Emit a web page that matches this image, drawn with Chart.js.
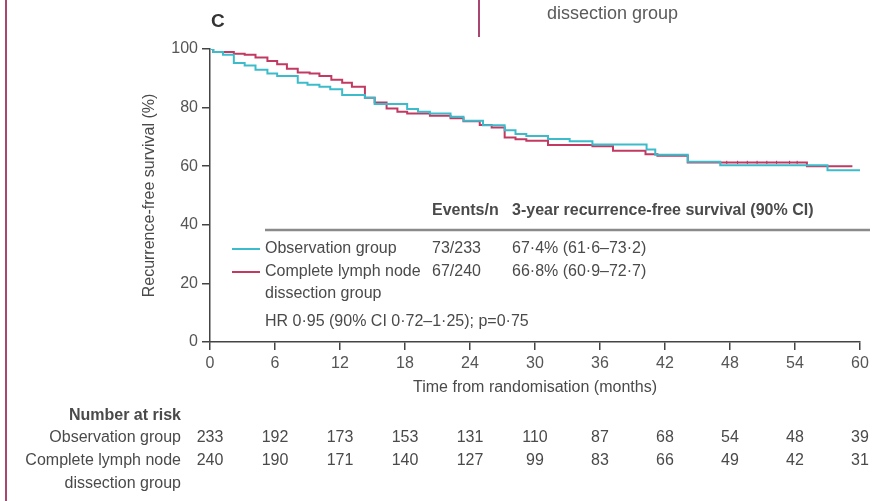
<!DOCTYPE html>
<html>
<head>
<meta charset="utf-8">
<script src="https://cdn.jsdelivr.net/npm/chart.js@4.4.1/dist/chart.umd.min.js"></script>
<style>
  html, body { margin: 0; padding: 0; background: #fff; }
  #wrap { position: relative; width: 874px; height: 501px; }
</style>
</head>
<body>
<div id="wrap"><canvas id="km" width="874" height="501"></canvas></div>
<script>
// Kaplan-Meier step estimates: survival (%) holds from each time (months) onward
const obsTimes = [0, 0.3, 1.2, 2.2, 3.2, 4.2, 5.3, 6.2, 8.1, 9.0, 10.1, 11.1, 12.2, 14.3, 15.2, 18.2, 19.2, 20.3, 22.2, 23.4, 25.2, 27.2, 28.2, 29.2, 31.2, 33.2, 35.3, 40.3, 41.1, 44.1, 47.1, 57.0, 60.2];
const obsSurv  = [100, 99.0, 98.0, 95.2, 94.4, 92.9, 91.6, 90.8, 88.5, 87.8, 87.1, 86.3, 84.3, 83.4, 81.2, 79.5, 78.6, 78.0, 76.9, 75.5, 74.0, 72.3, 71.0, 70.3, 69.3, 68.5, 67.4, 65.7, 63.9, 61.5, 60.3, 58.6, 58.6];

const clndTimes = [0, 0.3, 2.2, 3.2, 4.2, 5.3, 6.2, 7.1, 8.1, 9.2, 10.1, 11.2, 12.2, 13.1, 14.3, 15.2, 16.3, 17.3, 18.2, 20.3, 22.2, 23.4, 24.9, 26.0, 27.2, 28.2, 29.2, 31.2, 35.3, 37.2, 40.2, 41.3, 44.1, 55.1, 59.3];
const clndSurv  = [100, 99.0, 98.4, 98.0, 97.1, 95.9, 94.8, 93.3, 92.0, 91.6, 90.8, 89.5, 88.5, 87.1, 83.4, 81.7, 79.7, 78.6, 78.0, 77.2, 76.4, 75.3, 74.1, 73.2, 69.8, 69.2, 68.7, 67.2, 66.8, 65.3, 64.1, 63.6, 61.3, 60.0, 60.0];

// Censoring marks on the dissection-group curve
const clndCensorTimes = [47.7, 48.7, 49.6, 50.5, 51.4, 52.3, 53.5, 54.2];
const clndCensorSurv  = [61.3, 61.3, 61.3, 61.3, 61.3, 61.3, 61.3, 61.3];

// Number at risk at each 6-month mark
const riskTimes = [0, 6, 12, 18, 24, 30, 36, 42, 48, 54, 60];
const obsRisk   = [233, 192, 173, 153, 131, 110, 87, 68, 54, 48, 39];
const clndRisk  = [240, 190, 171, 140, 127, 99, 83, 66, 49, 42, 31];

// Summary table
const groupNames = ['Observation group', 'Complete lymph node', 'dissection group'];
const eventsN    = ['73/233', '67/240'];
const rfs3y      = ['67·4% (61·6–73·2)', '66·8% (60·9–72·7)'];
const hrText     = 'HR 0·95 (90% CI 0·72–1·25); p=0·75';

const CYAN = '#3cbccb';
const PINK = '#c23a62';
const FRAME = '#a8466f';
const TEXT = '#4a4a4a';
const FONT = "'Liberation Sans', Arial, sans-serif";

const toPts = (ts, vs) => ts.map((t, i) => ({x: t, y: vs[i]}));

const annotations = {
  id: 'annotations',
  afterDraw(chart) {
    const ctx = chart.ctx;
    const xs = chart.scales.x;
    const area = chart.chartArea;
    ctx.save();

    // page frame pieces
    ctx.strokeStyle = FRAME;
    ctx.lineWidth = 2;
    ctx.beginPath(); ctx.moveTo(6, 0); ctx.lineTo(6, 501); ctx.stroke();
    ctx.beginPath(); ctx.moveTo(479, 0); ctx.lineTo(479, 37); ctx.stroke();

    ctx.fillStyle = '#5a5a5a';
    ctx.textBaseline = 'middle';
    ctx.textAlign = 'left';
    ctx.font = `18px ${FONT}`;
    ctx.fillText('dissection group', 547, 14);

    // panel letter
    ctx.fillStyle = '#333';
    ctx.font = `bold 19px ${FONT}`;
    ctx.fillText('C', 211, 22);

    // axis titles
    ctx.fillStyle = TEXT;
    ctx.font = `16px ${FONT}`;
    ctx.textAlign = 'center';
    ctx.fillText('Time from randomisation (months)', (area.left + area.right) / 2, 388);
    ctx.save();
    ctx.translate(150, (area.top + area.bottom) / 2);
    ctx.rotate(-Math.PI / 2);
    ctx.fillText('Recurrence-free survival (%)', 0, 0);
    ctx.restore();

    // summary table
    ctx.font = `bold 16px ${FONT}`;
    ctx.textAlign = 'left';
    ctx.fillText('Events/n', 432, 211);
    ctx.fillText('3-year recurrence-free survival (90% CI)', 512, 211);
    ctx.strokeStyle = '#8a8a8a';
    ctx.lineWidth = 2.5;
    ctx.beginPath(); ctx.moveTo(265, 230); ctx.lineTo(870, 230); ctx.stroke();

    ctx.lineWidth = 2;
    ctx.strokeStyle = CYAN;
    ctx.beginPath(); ctx.moveTo(232, 249); ctx.lineTo(260, 249); ctx.stroke();
    ctx.strokeStyle = PINK;
    ctx.beginPath(); ctx.moveTo(232, 272); ctx.lineTo(260, 272); ctx.stroke();

    ctx.font = `16px ${FONT}`;
    ctx.fillText(groupNames[0], 265, 249);
    ctx.fillText(groupNames[1], 265, 272);
    ctx.fillText(groupNames[2], 265, 294);
    ctx.fillText(eventsN[0], 432, 249);
    ctx.fillText(eventsN[1], 432, 272);
    ctx.fillText(rfs3y[0], 512, 249);
    ctx.fillText(rfs3y[1], 512, 272);
    ctx.fillText(hrText, 265, 322);

    // number at risk table
    ctx.textAlign = 'right';
    ctx.font = `bold 16px ${FONT}`;
    ctx.fillText('Number at risk', 181, 416);
    ctx.font = `16px ${FONT}`;
    ctx.fillText(groupNames[0], 181, 438);
    ctx.fillText(groupNames[1], 181, 461);
    ctx.fillText(groupNames[2], 181, 484);
    ctx.textAlign = 'center';
    riskTimes.forEach((t, i) => {
      const px = xs.getPixelForValue(t);
      ctx.fillText(String(obsRisk[i]), px, 438);
      ctx.fillText(String(clndRisk[i]), px, 461);
    });
    ctx.restore();
  }
};

new Chart(document.getElementById('km'), {
  type: 'line',
  data: {
    datasets: [
      { label: groupNames[0], data: toPts(obsTimes, obsSurv), borderColor: CYAN, borderWidth: 2, stepped: true, pointRadius: 0, fill: false },
      { label: groupNames[1] + ' ' + groupNames[2], data: toPts(clndTimes, clndSurv), borderColor: PINK, borderWidth: 2, stepped: true, pointRadius: 0, fill: false },
      { label: 'censored', data: toPts(clndCensorTimes, clndCensorSurv), showLine: false, pointStyle: 'line', rotation: 90, pointRadius: 1.6, pointBorderColor: '#8a3a5a', pointBorderWidth: 1 }
    ]
  },
  options: {
    responsive: false,
    animation: false,
    layout: { padding: { left: 0, top: 49, right: 14, bottom: 0 } },
    plugins: { legend: { display: false }, tooltip: { enabled: false } },
    scales: {
      x: {
        type: 'linear', min: 0, max: 60,
        afterFit(s) { s.height = 159; },
        ticks: { stepSize: 6, color: '#555', font: { family: FONT, size: 16 }, padding: 4 },
        grid: { drawOnChartArea: false, drawTicks: true, tickLength: 8, color: '#444', lineWidth: 1.5 },
        border: { display: true, color: '#444', width: 1.5 }
      },
      y: {
        min: 0, max: 100,
        afterFit(s) { s.width = 210; },
        ticks: { stepSize: 20, color: '#555', font: { family: FONT, size: 16 }, padding: 4 },
        grid: { drawOnChartArea: false, drawTicks: true, tickLength: 8, color: '#444', lineWidth: 1.5 },
        border: { display: true, color: '#444', width: 1.5 }
      }
    }
  },
  plugins: [annotations]
});
</script>
</body>
</html>
